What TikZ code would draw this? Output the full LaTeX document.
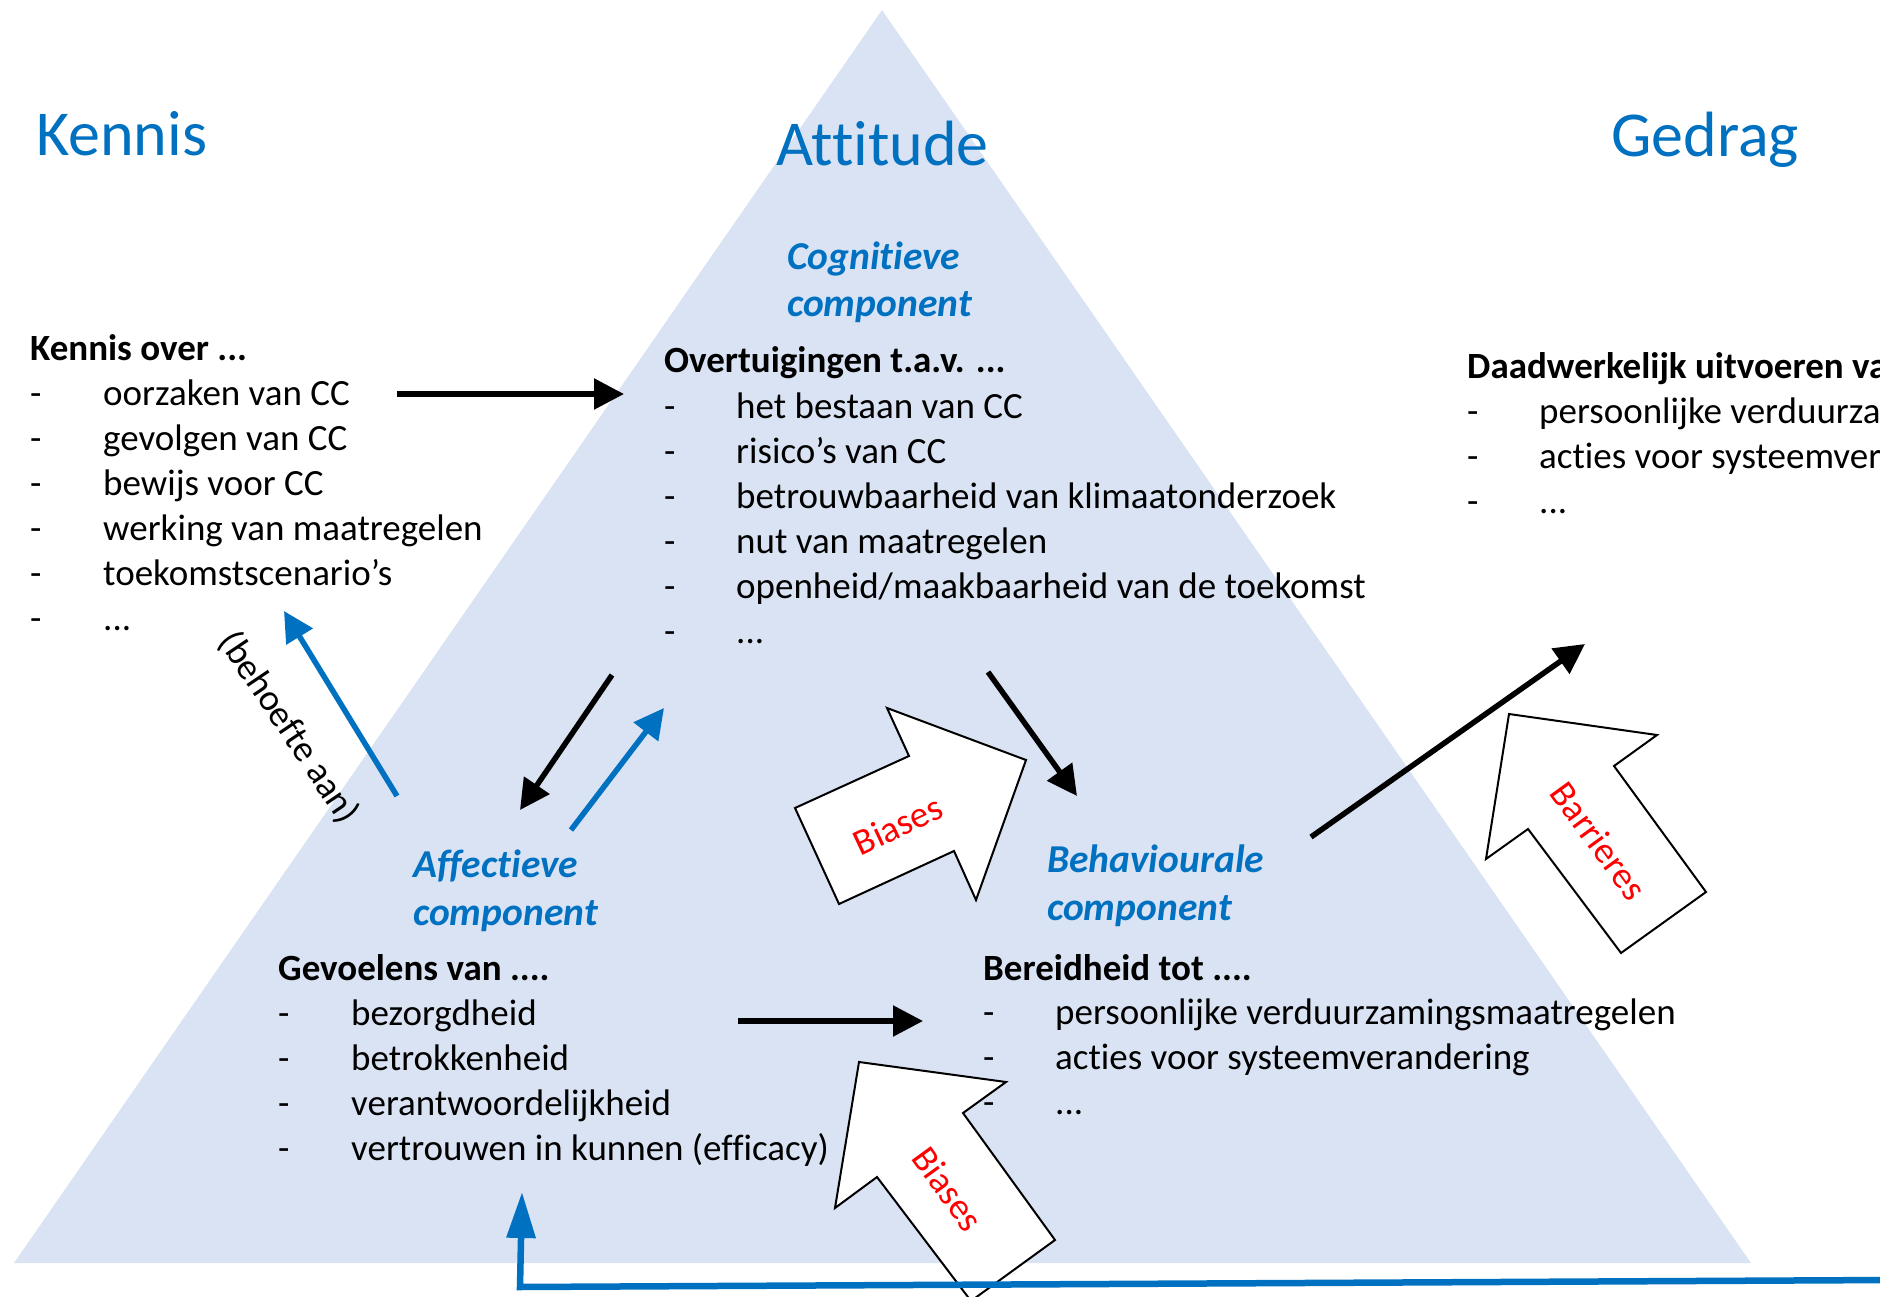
\documentclass[tikz,border=0pt]{standalone}
\usepackage{fontspec}
\setmainfont{Carlito}[Ligatures={NoCommon,NoContextual}]
\usetikzlibrary{arrows.meta}
\definecolor{tri}{HTML}{DAE3F3}
\definecolor{pblue}{HTML}{0070C0}
\definecolor{pred}{HTML}{FF0000}
\tikzset{
  titletext/.style={anchor=base west, inner sep=0, text=pblue, font=\fontsize{64}{77}\selectfont},
  comptext/.style={anchor=base west, inner sep=0, text=pblue, font=\fontsize{39.5}{47}\selectfont\bfseries\itshape},
  headtext/.style={anchor=base west, inner sep=0, font=\fontsize{37}{45}\selectfont\bfseries},
  itemtext/.style={anchor=base west, inner sep=0, font=\fontsize{37}{45}\selectfont},
  conn/.style={line width=5.5pt, -{Triangle[length=30pt,width=30pt]}},
  bconn/.style={conn, draw=pblue},
  blockarrow/.style={draw=black, line width=2pt, fill=white, line join=miter},
  btext/.style={text=pred, inner sep=0, font=\fontsize{37}{44}\selectfont},
}
\newcommand\tdots{...}
\newcommand\mklist[5]{%
  \foreach \txt [count=\i] in {#5} {%
    \node[itemtext] (#1d\i) at (#2, {#4+45*\i}) {-};
    \node[itemtext] (#1\i) at (#3, {#4+45*\i}) {\txt};
  }%
}
\begin{document}
\begin{tikzpicture}[x=1pt,y=-1pt]
\useasboundingbox (0,0) rectangle (1880,1297);
\clip (0,0) rectangle (1880,1297);
% triangle
\fill[tri] (882,10) -- (1751,1263) -- (14,1263) -- cycle;
% titles
\node[titletext] (kennis) at (36,156) {Kennis};
\node[titletext] (attitude) at (776,166) {Attitude};
\node[titletext] (gedrag) at (1611,157) {Gedrag};
% components
\node[comptext] (cog1) at (787,270) {Cognitieve};
\node[comptext] (cog2) at (787,317) {component};
\node[comptext] (aff1) at (413,877) {Affectieve};
\node[comptext] (aff2) at (413,925) {component};
\node[comptext] (beh1) at (1047,872) {Behaviourale};
\node[comptext] (beh2) at (1047,920) {component};
% lists
\node[headtext] (kh) at (30,360) {Kennis over \tdots};
\mklist{k}{30}{103}{360}{oorzaken van CC, gevolgen van CC, bewijs voor CC, werking van maatregelen, toekomstscenario’s, \tdots}
\node[headtext] (oh) at (664,373) {Overtuigingen t.a.v. \tdots};
\mklist{o}{664}{736}{373}{het bestaan van CC, risico’s van CC, betrouwbaarheid van klimaatonderzoek, nut van maatregelen, openheid/maakbaarheid van de toekomst, \tdots}
\node[headtext] (gh) at (278,980) {Gevoelens van \tdots.};
\mklist{g}{278}{351}{980}{bezorgdheid, betrokkenheid, verantwoordelijkheid, vertrouwen in kunnen (efficacy)}
\node[headtext] (bh) at (983,980) {Bereidheid tot \tdots.};
\mklist{b}{983}{1055}{979}{persoonlijke verduurzamingsmaatregelen, acties voor systeemverandering, \tdots}
\node[headtext] (dh) at (1467,378) {Daadwerkelijk uitvoeren van \tdots};
\mklist{d}{1467}{1539}{378}{persoonlijke verduurzamingsmaatregelen, acties voor systeemverandering, \tdots}
% block arrows
\draw[blockarrow] (1026,760) -- (976,900) -- (954,851) -- (839,904) -- (795,808) -- (909,756) -- (887,708) -- cycle;
\node[btext, rotate=25] (bias1) at (898,825) {Biases};
\draw[blockarrow] (1509,714) -- (1657,735) -- (1614,766) -- (1706,892) -- (1621,953) -- (1528,829) -- (1486,859) -- cycle;
\node[btext, rotate=-54] (barr) at (1599,841) {Barrieres};
\draw[blockarrow] (859,1062) -- (1006,1082) -- (963,1113) -- (1055,1240) -- (971,1301) -- (877,1177) -- (835,1208) -- cycle;
\node[btext, rotate=-54] (bias2) at (948,1189) {Biases};
% connector end points
\coordinate (a1s) at (397,394); \coordinate (a1e) at (624,394);
\coordinate (a2s) at (612,675); \coordinate (a2e) at (520,810);
\coordinate (a3s) at (571,830); \coordinate (a3e) at (664,708);
\coordinate (a4s) at (397,796); \coordinate (a4e) at (284,611);
\coordinate (a5s) at (988,672); \coordinate (a5e) at (1077,796);
\coordinate (a6s) at (738,1021); \coordinate (a6e) at (923,1021);
\coordinate (a7s) at (1311,837); \coordinate (a7e) at (1585,644);
\coordinate (l1) at (1890,1280); \coordinate (l2) at (520,1287); \coordinate (l3) at (522,1192);
% connectors
\draw[conn] (a1s) -- (a1e);
\draw[conn] (a2s) -- (a2e);
\draw[bconn] (a3s) -- (a3e);
\draw[bconn] (a4s) -- (a4e);
\draw[conn] (a5s) -- (a5e);
\draw[conn] (a6s) -- (a6e);
\draw[conn] (a7s) -- (a7e);
\draw[draw=pblue, line width=6.5pt, line join=miter, -{Triangle[length=46pt,width=28pt]}] (l1) -- (l2) -- (l3);
\node[inner sep=0, rotate=-56, font=\fontsize{37}{44}\selectfont] (need) at (289,728) {(behoefte aan)};
\end{tikzpicture}
\end{document}
